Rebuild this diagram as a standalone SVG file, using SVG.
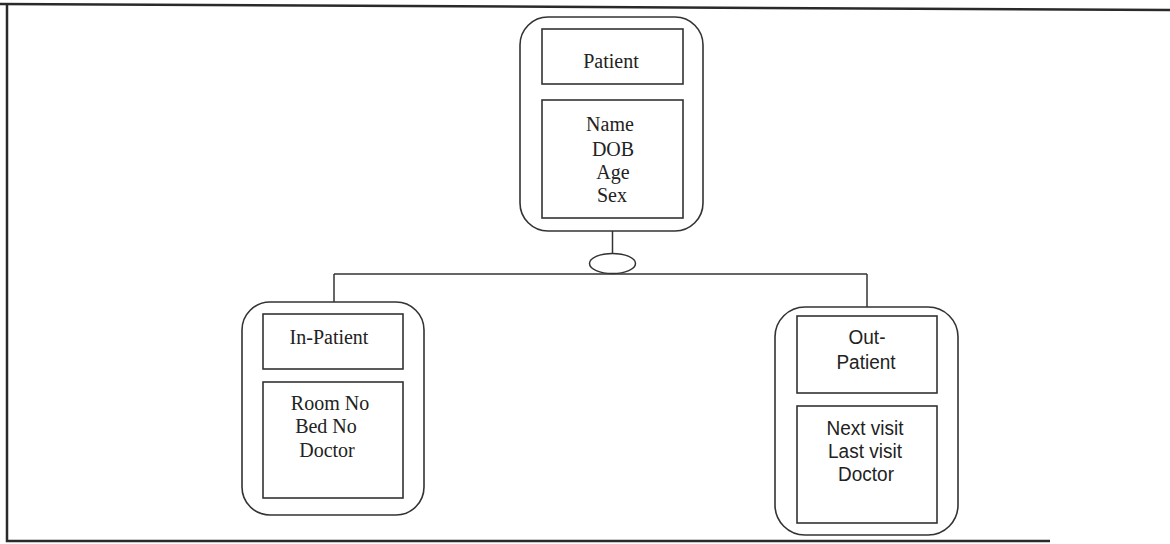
<svg xmlns="http://www.w3.org/2000/svg" width="1170" height="544" viewBox="0 0 1170 544">
  <style>
    .outer { fill: none; stroke: #333; stroke-width: 1.6; }
    .inner { fill: none; stroke: #333; stroke-width: 1.6; }
    .link { fill: none; stroke: #333; stroke-width: 1.5; }
    .frame { fill: none; stroke: #2a2a2a; stroke-width: 2.5; }
    .serif { font-family: "Liberation Serif", "DejaVu Serif", serif; font-size: 20px; fill: #222; text-anchor: middle; }
    .sans { font-family: "Liberation Sans", Arial, sans-serif; font-size: 19px; fill: #222; text-anchor: middle; }
  </style>
  <rect width="1170" height="544" fill="#ffffff"/>

  <!-- page frame -->
  <g id="frame">
    <path class="frame" d="M0 4 L1170 10"/>
    <path class="frame" d="M7 4 L7 541 L1050 541"/>
  </g>

  <!-- connectors -->
  <g id="connectors">
    <line class="link" x1="612.5" y1="231" x2="612.5" y2="253"/>
    <ellipse class="link" cx="612.5" cy="263.5" rx="23" ry="10"/>
    <line class="link" x1="334" y1="274" x2="867" y2="274"/>
    <line class="link" x1="334" y1="274" x2="334" y2="302"/>
    <line class="link" x1="867" y1="274" x2="867" y2="307"/>
  </g>

  <!-- Patient entity -->
  <g id="patient">
    <rect class="outer" x="520" y="17" width="183" height="214" rx="28" ry="28"/>
    <rect class="inner" x="542" y="29" width="141" height="55"/>
    <rect class="inner" x="542" y="100" width="141" height="118"/>
    <text class="serif" x="611" y="68">Patient</text>
    <text class="serif" x="610" y="131">Name</text>
    <text class="serif" x="613" y="156">DOB</text>
    <text class="serif" x="613" y="179">Age</text>
    <text class="serif" x="612" y="202">Sex</text>
  </g>

  <!-- In-Patient entity -->
  <g id="in-patient">
    <rect class="outer" x="242" y="302" width="182" height="213" rx="28" ry="28"/>
    <rect class="inner" x="263" y="314" width="140" height="55"/>
    <rect class="inner" x="263" y="382" width="140" height="116"/>
    <text class="serif" x="329" y="344">In-Patient</text>
    <text class="serif" x="330" y="410">Room No</text>
    <text class="serif" x="326" y="433">Bed No</text>
    <text class="serif" x="327" y="457">Doctor</text>
  </g>

  <!-- Out-Patient entity -->
  <g id="out-patient">
    <rect class="outer" x="775" y="307" width="183" height="228" rx="30" ry="30"/>
    <rect class="inner" x="797" y="316" width="140" height="77"/>
    <rect class="inner" x="797" y="406" width="140" height="117"/>
    <text class="sans" transform="translate(867 344) scale(1 1.08)">Out-</text>
    <text class="sans" transform="translate(866 369) scale(1 1.08)">Patient</text>
    <text class="sans" transform="translate(865 435) scale(1 1.08)">Next visit</text>
    <text class="sans" transform="translate(865 458) scale(1 1.08)">Last visit</text>
    <text class="sans" transform="translate(866 481) scale(1 1.08)">Doctor</text>
  </g>
</svg>
